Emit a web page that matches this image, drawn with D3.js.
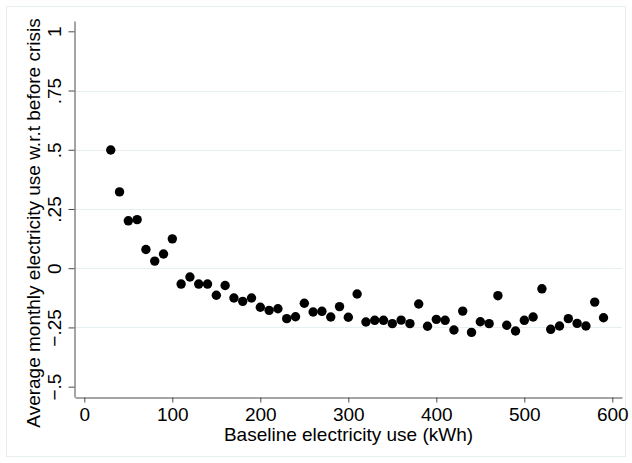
<!DOCTYPE html>
<html>
<head>
<meta charset="utf-8">
<script src="https://cdn.jsdelivr.net/npm/d3@7/dist/d3.min.js"></script>
<style>
  html, body { margin: 0; padding: 0; background: #fff; }
  svg { display: block; }
  text { font-family: "Liberation Sans", Arial, Helvetica, sans-serif; fill: #000; }
</style>
</head>
<body>
<script>
// Baseline consumption bins (kWh)
const baseline = [30, 40, 50, 60, 70, 80, 90, 100, 110, 120, 130, 140, 150, 160, 170, 180, 190,
  200, 210, 220, 230, 240, 250, 260, 270, 280, 290, 300, 310, 320, 330, 340, 350, 360, 370,
  380, 390, 400, 410, 420, 430, 440, 450, 460, 470, 480, 490, 500, 510, 520, 530, 540, 550,
  560, 570, 580, 590];

// Average monthly change in electricity use relative to the pre-crisis level
const change = [0.499, 0.322, 0.200, 0.205, 0.079, 0.030, 0.060, 0.124, -0.067, -0.037,
  -0.067, -0.067, -0.114, -0.073, -0.126, -0.140, -0.126, -0.165, -0.178, -0.171, -0.213,
  -0.205, -0.148, -0.185, -0.182, -0.206, -0.162, -0.207, -0.109, -0.227, -0.220, -0.220,
  -0.234, -0.219, -0.234, -0.151, -0.245, -0.216, -0.220, -0.261, -0.181, -0.271, -0.226,
  -0.234, -0.116, -0.241, -0.265, -0.220, -0.206, -0.087, -0.258, -0.244, -0.213, -0.233,
  -0.244, -0.143, -0.209];

const xTicks = [0, 100, 200, 300, 400, 500, 600];
const yTicks = [1, 0.75, 0.5, 0.25, 0, -0.25, -0.5];
const yGrid = [0.75, 0.5, 0.25, 0, -0.25];

const W = 632, H = 463;
const plotL = 75, plotR = 622, plotT = 21, plotB = 397;

const svg = d3.select("body").append("svg").attr("width", W).attr("height", H);

// outer graph-region frame
svg.append("rect")
  .attr("x", 6.5).attr("y", 6.5).attr("width", 619).attr("height", 450)
  .attr("fill", "#fff").attr("stroke", "#e6eef0").attr("stroke-width", 1);

const x = d3.scaleLinear().domain([-10.6, 611]).range([plotL, plotR]);
const y = d3.scaleLinear().domain([-0.5437, 1.0435]).range([plotB, plotT]);

const fmtY = v => {
  if (v === 0) return "0";
  const s = String(Math.abs(v)).replace(/^0/, "");
  return (v < 0 ? "\u2212" : "") + s;
};

// horizontal gridlines
svg.append("g").selectAll("line").data(yGrid).join("line")
  .attr("x1", plotL).attr("x2", plotR)
  .attr("y1", d => Math.round(y(d)) + 0.5).attr("y2", d => Math.round(y(d)) + 0.5)
  .attr("stroke", "#e6eef1").attr("stroke-width", 1.2);

// x axis
const gx = svg.append("g").attr("transform", `translate(0,${plotB + 0.5})`)
  .call(d3.axisBottom(x).tickValues(xTicks).tickSize(5).tickSizeOuter(0).tickPadding(5)
    .tickFormat(d3.format("d")));

// y axis with vertical tick labels
const gy = svg.append("g").attr("transform", `translate(${plotL - 0.5},0)`)
  .call(d3.axisLeft(y).tickValues(yTicks).tickSize(6).tickSizeOuter(0).tickFormat(fmtY));
gy.selectAll(".tick text")
  .attr("x", 0).attr("dy", 0)
  .attr("transform", "translate(-14,0) rotate(-90)")
  .attr("text-anchor", "middle");

[gx, gy].forEach(g => {
  g.select(".domain").attr("stroke", "#4a4a4a").attr("stroke-width", 1);
  g.selectAll(".tick line").attr("stroke", "#4a4a4a").attr("stroke-width", 1);
  g.selectAll(".tick text").attr("font-size", 19).attr("fill", "#000")
    .attr("font-family", "'Liberation Sans', Arial, sans-serif");
});

// axis titles
svg.append("text")
  .attr("x", (plotL + plotR) / 2).attr("y", 441)
  .attr("text-anchor", "middle").attr("font-size", 19)
  .text("Baseline electricity use (kWh)");

svg.append("text")
  .attr("transform", "translate(40,223) rotate(-90)")
  .attr("text-anchor", "middle").attr("font-size", 19)
  .text("Average monthly electricity use w.r.t before crisis");

// markers
svg.append("g").selectAll("circle").data(baseline).join("circle")
  .attr("cx", d => x(d))
  .attr("cy", (d, i) => y(change[i]))
  .attr("r", 4.7)
  .attr("fill", "#000");
</script>
</body>
</html>
